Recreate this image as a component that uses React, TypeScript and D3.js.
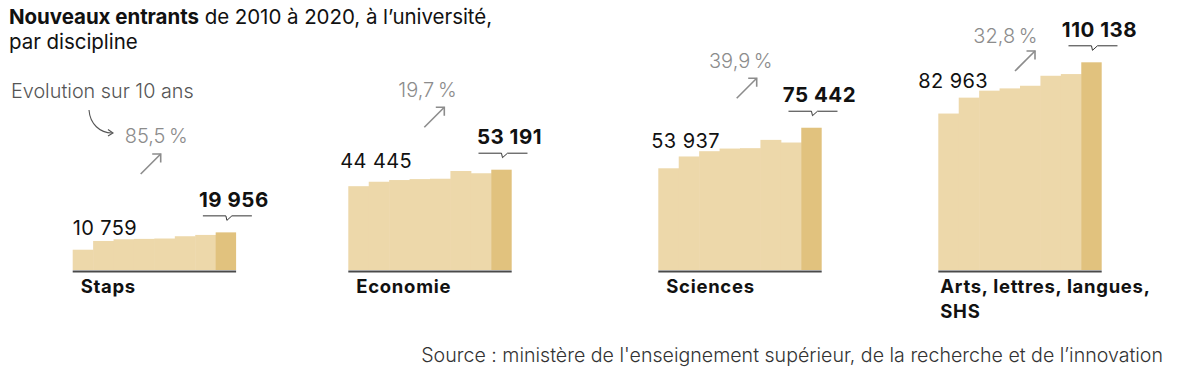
import React from "react";
import * as d3 from "d3";

const years = ["2013", "2014", "2015", "2016", "2017", "2018", "2019", "2020"];
const categories = ["Staps", "Economie", "Sciences", "Arts, lettres, langues,|SHS"];
const staps = [10759, 15400, 16300, 16500, 16700, 17900, 18600, 19956];
const economie = [44445, 46800, 47700, 48200, 48400, 52500, 51300, 53191];
const sciences = [53937, 60200, 63000, 64400, 64600, 69000, 67600, 75442];
const arts = [82963, 91400, 95100, 96300, 97700, 103000, 103900, 110138];
const series = [staps, economie, sciences, arts];

const title = "Nouveaux entrants";
const subtitle = " de 2010 à 2020, à l\u2019université,";
const subtitle2 = "par discipline";
const legendNote = "Evolution sur 10 ans";
const source = "Source : ministère de l'enseignement supérieur, de la recherche et de l\u2019innovation";

// layout (positions only)
const layout = [
  { x0: 72.7, labDx: 0, labY: 235, pctDx: 52, pctY: 143.3, arrDx: 68, arrY: 174, catDx: 8 },
  { x0: 348.3, labDx: -8, labY: 167.7, pctDx: 50, pctY: 96.7, arrDx: 76, arrY: 127.3, catDx: 8 },
  { x0: 658.3, labDx: -7, labY: 148.3, pctDx: 50.7, pctY: 68.3, arrDx: 78.4, arrY: 98.3, catDx: 8 },
  { x0: 938.3, labDx: -20, labY: 88.3, pctDx: 35, pctY: 43.3, arrDx: 76.7, arrY: 71, catDx: 2 },
];

const FONT = "Inter, 'Open Sans', sans-serif";
const LIGHT = "#edd8aa";
const DARK = "#e1c27e";

const fr = d3.formatLocale({ decimal: ",", thousands: " ", grouping: [3], currency: ["", "\u00a0€"] });
const fmtInt = fr.format(",d");
const fmtPct = fr.format(".1f");

export default function App() {
  const W = 1200, H = 377;
  const baseY = 270;
  const groupW = 163.4;
  const y = d3.scaleLinear().domain([0, 110138]).range([baseY, 62.3]);

  return (
    <svg width={W} height={H} style={{ position: "absolute", left: 0, top: 0, background: "#fff" }} fontFamily={FONT}>
      <text x={9} y={24} fontSize={20.5} fill="#111" letterSpacing={-0.05}>
        <tspan fontWeight={700}>{title}</tspan>
        <tspan fontWeight={400}>{subtitle}</tspan>
      </text>
      <text x={9} y={49} fontSize={20.5} fill="#111" letterSpacing={-0.05}>{subtitle2}</text>
      <text x={11} y={98} fontSize={19.8} fill="#555" fontWeight={300}>{legendNote}</text>
      <path d="M89,110 C90,124 100,133 112,133" fill="none" stroke="#555" strokeWidth={1.1} />
      <path d="M108,129.5 L113,133 L108,136" fill="none" stroke="#555" strokeWidth={1.1} />

      {series.map((vals, gi) => {
        const L = layout[gi];
        const x = d3.scaleBand().domain(years).range([L.x0, L.x0 + groupW]).padding(0);
        const last = vals[vals.length - 1];
        const first = vals[0];
        const lastYear = years[years.length - 1];
        const cx = (x(lastYear) as number) + x.bandwidth() / 2;
        const topLast = y(last);
        const by = topLast - 16.5;
        const pct = (last / first - 1) * 100;
        const ax = L.x0 + L.arrDx, ay = L.arrY;
        const tx = ax + 20, ty = ay - 20;
        const catLines = categories[gi].split("|");
        return (
          <g key={gi}>
            {vals.map((v, i) => (
              <rect key={i} x={x(years[i]) as number} y={y(v)} width={x.bandwidth() + (i < vals.length - 1 ? 0.5 : 0)} height={baseY - y(v)}
                fill={i === vals.length - 1 ? DARK : LIGHT} />
            ))}
            <line x1={L.x0} x2={L.x0 + groupW} y1={baseY + 1.5} y2={baseY + 1.5} stroke="#4a4a4a" strokeWidth={2} />
            <text x={L.x0 + L.labDx} y={L.labY} fontSize={20} fill="#111" letterSpacing={0.4}>{fmtInt(first)}</text>
            <text x={cx + 8} y={by - 9} fontSize={20.5} fontWeight={700} fill="#111" textAnchor="middle" letterSpacing={0.5}>{fmtInt(last)}</text>
            <path d={`M${cx - 23},${by} H${cx} L${cx + 1},${by + 4.5} L${cx + 6},${by} H${cx + 26}`} fill="none" stroke="#333" strokeWidth={1} />
            <text x={L.x0 + L.pctDx} y={L.pctY} fontSize={20} fill="#8c8c8c" fontWeight={300}>{fmtPct(pct) + "\u202f%"}</text>
            <line x1={ax} y1={ay} x2={tx} y2={ty} stroke="#8c8c8c" strokeWidth={1.6} />
            <path d={`M${tx - 8.5},${ty} L${tx},${ty} L${tx},${ty + 8.5}`} fill="none" stroke="#8c8c8c" strokeWidth={1.6} />
            {catLines.map((t, li) => (
              <text key={li} x={L.x0 + L.catDx} y={293 + li * 25} fontSize={18.5} fontWeight={700} fill="#111" letterSpacing={0.7}>{t}</text>
            ))}
          </g>
        );
      })}

      <text x={1163} y={362} fontSize={19.6} fontWeight={300} fill="#333" textAnchor="end">{source}</text>
    </svg>
  );
}
